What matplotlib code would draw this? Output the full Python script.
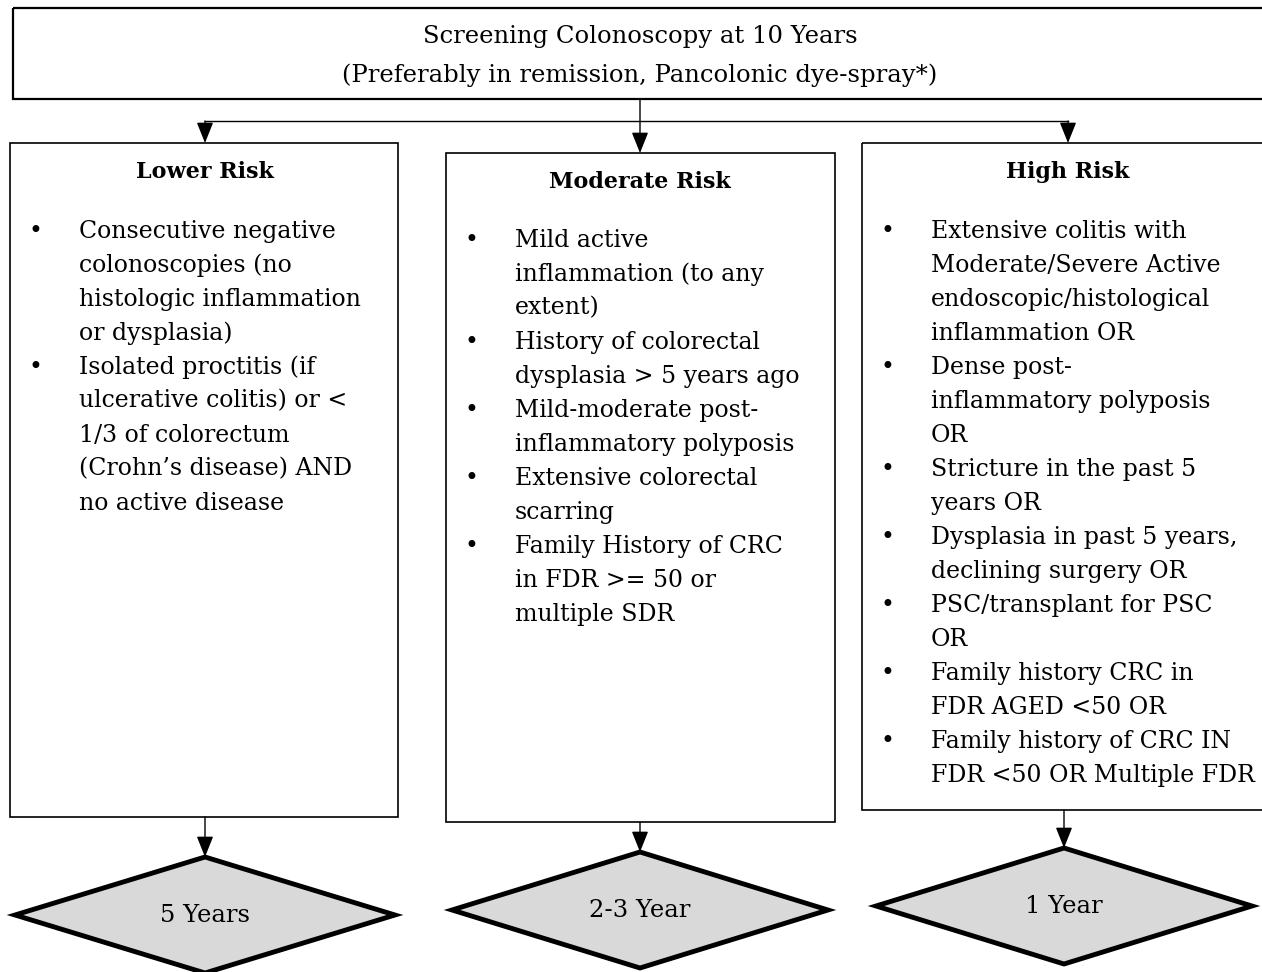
import matplotlib.pyplot as plt
from matplotlib.patches import Rectangle, Polygon

plt.rcParams['font.family'] = ['DejaVu Serif']

top_lines = ["Screening Colonoscopy at 10 Years",
             "(Preferably in remission, Pancolonic dye-spray*)"]

titles = ["Lower Risk", "Moderate Risk", "High Risk"]

lower_items = [
    ["Consecutive negative", "colonoscopies (no", "histologic inflammation", "or dysplasia)"],
    ["Isolated proctitis (if", "ulcerative colitis) or <", "1/3 of colorectum",
     "(Crohn\u2019s disease) AND", "no active disease"],
]
moderate_items = [
    ["Mild active", "inflammation (to any", "extent)"],
    ["History of colorectal", "dysplasia > 5 years ago"],
    ["Mild-moderate post-", "inflammatory polyposis"],
    ["Extensive colorectal", "scarring"],
    ["Family History of CRC", "in FDR >= 50 or", "multiple SDR"],
]
high_items = [
    ["Extensive colitis with", "Moderate/Severe Active", "endoscopic/histological", "inflammation OR"],
    ["Dense post-", "inflammatory polyposis", "OR"],
    ["Stricture in the past 5", "years OR"],
    ["Dysplasia in past 5 years,", "declining surgery OR"],
    ["PSC/transplant for PSC", "OR"],
    ["Family history CRC in", "FDR AGED <50 OR"],
    ["Family history of CRC IN", "FDR <50 OR Multiple FDR"],
]
items = [lower_items, moderate_items, high_items]

intervals = ["5 Years", "2-3 Year", "1 Year"]

# layout in pixels (x0, y0, x1, y1)
boxes = [(10, 143, 398, 817), (446, 153, 835, 822), (862, 143, 1280, 810)]
centers = [205, 640, 1068]
title_y = [172, 182, 172]
first_line = [231, 240, 231]
line_h = 34
diamonds = [(205, 915, 190, 58), (640, 910, 188, 58), (1064, 906, 188, 58)]

fig = plt.figure(figsize=(12.62, 9.72), dpi=100)
ax = fig.add_axes([0, 0, 1, 1])
ax.set_xlim(0, 1262)
ax.set_ylim(972, 0)
ax.axis("off")

fs = 17

# top box
ax.add_patch(Rectangle((13, 8), 1280, 91, fill=False, lw=1.6, ec="black"))
ax.text(640, 37, top_lines[0], ha="center", va="center", fontsize=17.5)
ax.text(640, 75, top_lines[1], ha="center", va="center", fontsize=17.5)

arrow = dict(arrowstyle="-|>,head_length=0.8,head_width=0.32", mutation_scale=16,
             lw=1.0, color="black", shrinkA=0, shrinkB=0)

# connectors from top box
ax.plot([centers[0], centers[2]], [121, 121], color="black", lw=1.0)
ax.annotate("", xy=(640, boxes[1][1]), xytext=(640, 99), arrowprops=arrow)
ax.annotate("", xy=(centers[0], boxes[0][1]), xytext=(centers[0], 121), arrowprops=arrow)
ax.annotate("", xy=(centers[2], boxes[2][1]), xytext=(centers[2], 121), arrowprops=arrow)

for i in range(3):
    x0, y0, x1, y1 = boxes[i]
    ax.add_patch(Rectangle((x0, y0), x1 - x0, y1 - y0, fill=False, lw=1.2, ec="black"))
    ax.text(centers[i], title_y[i], titles[i], ha="center", va="center",
            fontsize=16, fontweight="bold")
    y = first_line[i]
    for item in items[i]:
        ax.text(x0 + 25, y, "\u2022", ha="center", va="center", fontsize=fs)
        for line in item:
            ax.text(x0 + 69, y, line, ha="left", va="center", fontsize=fs)
            y += line_h

    # arrow to diamond
    cx, cy, hw, hh = diamonds[i]
    ax.annotate("", xy=(cx, cy - hh), xytext=(cx, y1), arrowprops=arrow)
    ax.add_patch(Polygon([(cx, cy - hh), (cx + hw, cy), (cx, cy + hh), (cx - hw, cy)],
                         closed=True, fc="#d9d9d9", ec="black", lw=3.5))
    ax.text(cx, cy, intervals[i], ha="center", va="center", fontsize=17.5)

fig.savefig("out.png", dpi=100)
